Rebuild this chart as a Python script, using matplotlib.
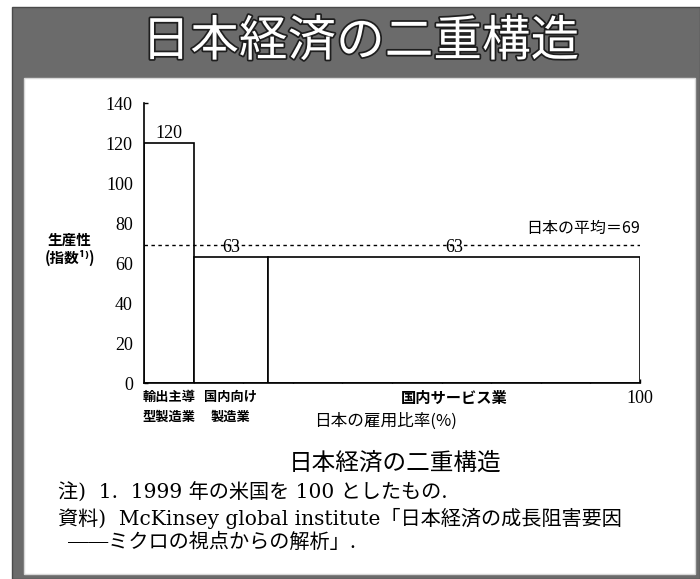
import matplotlib.pyplot as plt
import matplotlib.patheffects as pe
from matplotlib.patches import Rectangle

plt.rcParams['font.family'] = ['Noto Sans CJK JP', 'DejaVu Sans']

# 産業別の雇用比率(%)と生産性(1999年の米国=100)
sectors = ['輸出主導\n型製造業', '国内向け\n製造業', '国内サービス業']
employment_share = [10, 15, 75]
productivity = [120, 63, 63]
japan_avg = 69
yticks = [0, 20, 40, 60, 80, 100, 120, 140]

W, H = 700, 579
fig = plt.figure(figsize=(W / 100, H / 100), dpi=100)


def fx(px):
    return px / W


def fy(py):
    return 1 - py / H


# スライドの枠と白いパネル
fig.add_artist(Rectangle((fx(12), 0), fx(W - 12), fy(7), transform=fig.transFigure,
                         facecolor='#6b6b6b', edgecolor='#4a4a4a', lw=1, zorder=0))
fig.add_artist(Rectangle((fx(24), fy(574)), fx(671), 496 / H, transform=fig.transFigure,
                         facecolor='white', edgecolor='#d8d8d8', lw=1, zorder=0))

fig.text(0.515, fy(42), '日本経済の二重構造', ha='center', va='center', fontsize=35,
         color='white', path_effects=[pe.withStroke(linewidth=2.5, foreground='#1e1e1e')])

ax = fig.add_axes([fx(144), fy(383), fx(640 - 144), (383 - 103) / H])
ax.set_facecolor('none')

lefts = [sum(employment_share[:i]) for i in range(len(employment_share))]
ax.bar(lefts, productivity, width=employment_share, align='edge',
       facecolor='white', edgecolor='black', linewidth=1.2, zorder=2)

ax.axhline(japan_avg, color='black', linestyle=(0, (2.5, 2.5)), linewidth=1.0, zorder=3)
ax.text(100, japan_avg + 4, f'日本の平均＝{japan_avg}', ha='right', va='bottom', fontsize=11.5)

num_font = dict(family=['Liberation Serif', 'DejaVu Serif'], fontsize=13)
for left, w, v in zip(lefts, employment_share, productivity):
    ax.text(left + w / 2, v + 0.5, str(v), ha='center', va='bottom', **num_font)

ax.set_xlim(0, 100)
ax.set_ylim(0, 140)
ax.spines[['top', 'right']].set_visible(False)
ax.spines[['left', 'bottom']].set_linewidth(1.2)
ax.set_yticks(yticks)
ax.set_yticklabels([str(t) for t in yticks], **num_font)
ax.set_xticks(range(0, 101, 10))
ax.set_xticklabels([])
ax.tick_params(direction='in', length=3, width=1)
ax.tick_params(axis='y', pad=8)

for left, w, name in zip(lefts, employment_share, sectors):
    size = 11 if '\n' not in name else 9.5
    ax.text(left + w / 2, -3.5, name, ha='center', va='top', fontsize=size,
            fontweight='bold', linespacing=1.5)
ax.text(100, -3.5, '100', ha='center', va='top', **num_font)

fig.text(fx(70), fy(249), '生産性\n(指数¹⁾)', ha='center', va='center', fontsize=10.5,
         fontweight='bold', linespacing=1.2)
fig.text(fx(385), fy(421), '日本の雇用比率(%)', ha='center', va='center', fontsize=12)

note_font = dict(family=['DejaVu Serif', 'Noto Sans CJK JP'], fontsize=14.5)
fig.text(fx(395), fy(463), '日本経済の二重構造', ha='center', va='center', fontsize=17)
fig.text(fx(58), fy(493), '注)  1.  1999 年の米国を 100 としたもの.', ha='left', va='center',
         **note_font)
fig.text(fx(58), fy(518), '資料)  McKinsey global institute「日本経済の成長阻害要因',
         ha='left', va='center', **note_font)
fig.text(fx(68), fy(542), '――ミクロの視点からの解析」.', ha='left', va='center', **note_font)

fig.savefig('out.png', dpi=100)
